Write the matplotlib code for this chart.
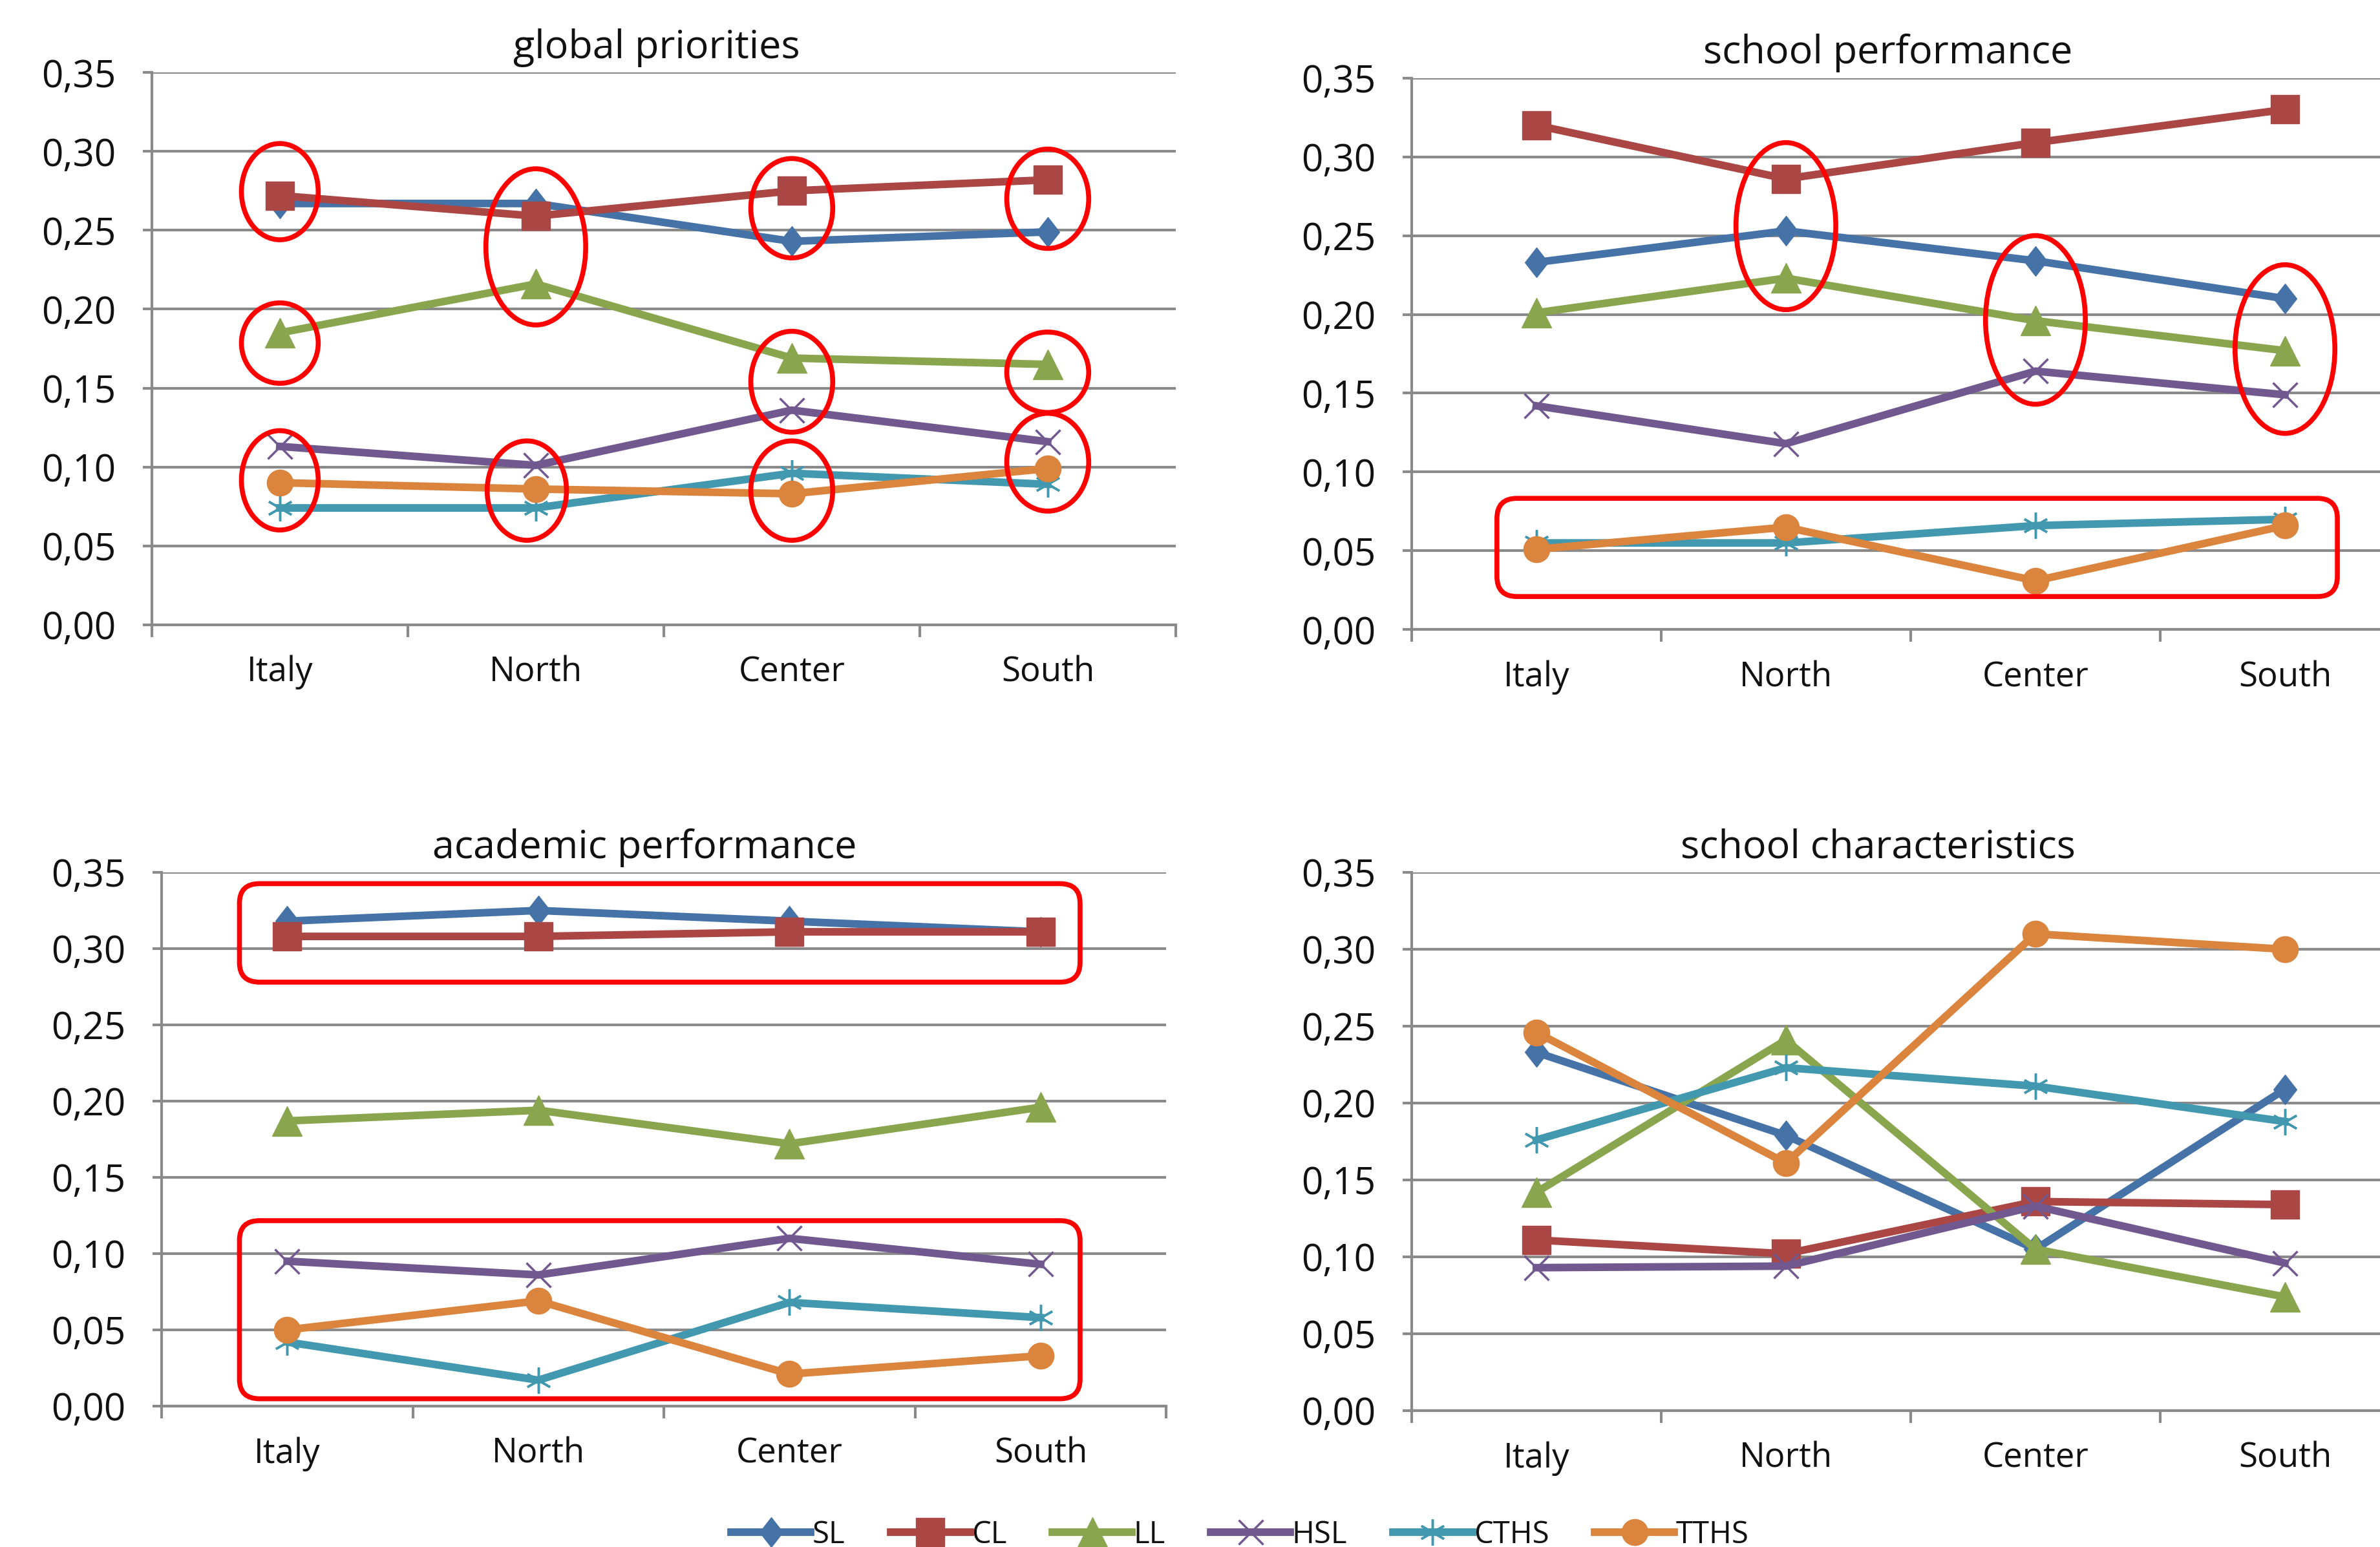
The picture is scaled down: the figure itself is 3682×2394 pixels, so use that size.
import numpy as np
import matplotlib
matplotlib.use("Agg")
import matplotlib.pyplot as plt
from matplotlib.patches import Ellipse, FancyBboxPatch
from matplotlib.path import Path
from matplotlib.ticker import FuncFormatter

plt.rcParams['font.family'] = ['Open Sans', 'DejaVu Sans']

regions = ['Italy', 'North', 'Center', 'South']
series = ['SL', 'CL', 'LL', 'HSL', 'CTHS', 'TTHS']
titles = ['global priorities', 'school performance',
          'academic performance', 'school characteristics']

# rows follow the order of `series`, columns the order of `regions`
global_priorities = [
    [0.267, 0.267, 0.243, 0.249],
    [0.272, 0.259, 0.275, 0.282],
    [0.185, 0.216, 0.169, 0.165],
    [0.113, 0.101, 0.136, 0.116],
    [0.074, 0.074, 0.096, 0.089],
    [0.090, 0.086, 0.083, 0.099],
]
school_performance = [
    [0.233, 0.253, 0.234, 0.210],
    [0.320, 0.286, 0.309, 0.330],
    [0.201, 0.223, 0.196, 0.177],
    [0.142, 0.118, 0.164, 0.149],
    [0.055, 0.055, 0.066, 0.070],
    [0.051, 0.065, 0.031, 0.066],
]
academic_performance = [
    [0.318, 0.325, 0.318, 0.311],
    [0.308, 0.308, 0.311, 0.311],
    [0.187, 0.194, 0.172, 0.196],
    [0.095, 0.086, 0.110, 0.093],
    [0.042, 0.017, 0.068, 0.058],
    [0.050, 0.069, 0.021, 0.033],
]
school_characteristics = [
    [0.233, 0.179, 0.105, 0.209],
    [0.111, 0.102, 0.136, 0.134],
    [0.142, 0.241, 0.105, 0.074],
    [0.093, 0.094, 0.133, 0.096],
    [0.176, 0.223, 0.211, 0.188],
    [0.246, 0.161, 0.310, 0.300],
]
panels = [global_priorities, school_performance,
          academic_performance, school_characteristics]

# tall diamond like the spreadsheet one
diamond = Path([(0, 1), (0.78, 0), (0, -1), (-0.78, 0), (0, 1)], closed=True)

colors = ['#4572A7', '#AA4643', '#89A54E', '#71588F', '#4198AF', '#DB843D']
markers = [diamond, 's', '^', 'x', (6, 2, 0), 'o']
msizes = [33, 32, 33, 28, 29, 29]
mews = [1, 1, 1, 2.5, 2.5, 1]

# red highlight marks: ellipses (x, y centre, width, height)
ellipses = {
    0: [(0, 0.2745, 0.30, 0.061), (0, 0.1785, 0.30, 0.051), (0, 0.0915, 0.30, 0.063),
        (1, 0.2395, 0.39, 0.099), (0.965, 0.085, 0.31, 0.063),
        (2, 0.264, 0.32, 0.063), (2, 0.154, 0.32, 0.064), (2, 0.085, 0.32, 0.063),
        (3, 0.270, 0.32, 0.063), (3, 0.160, 0.32, 0.051), (3, 0.103, 0.32, 0.062)],
    1: [(1, 0.256, 0.40, 0.106), (2, 0.1965, 0.40, 0.107), (3, 0.178, 0.40, 0.107)],
}
# rounded boxes (x0, x1, y0, y1)
boxes = {
    1: [(-0.158, 3.21, 0.021, 0.0833)],
    2: [(-0.19, 3.157, 0.278, 0.3426), (-0.19, 3.157, 0.0048, 0.1216)],
}

rects = [
    [0.0638, 0.5962, 0.4302, 0.3569],
    [0.5931, 0.5930, 0.4194, 0.3566],
    [0.0679, 0.0911, 0.4221, 0.3450],
    [0.5931, 0.0881, 0.4194, 0.3480],
]
title_x = [0.493, 0.477, 0.481, 0.467]

grid_col = '#8a8a8a'
text_col = '#111111'
red = '#ff0000'

fig = plt.figure(figsize=(36.82, 23.94), dpi=100)
x = np.arange(len(regions))
handles = []
for i, data in enumerate(panels):
    ax = fig.add_axes(rects[i])
    for j, name in enumerate(series):
        ln, = ax.plot(x, data[j], color=colors[j], lw=8.5, marker=markers[j],
                      markersize=msizes[j], markeredgewidth=mews[j],
                      markeredgecolor=colors[j], markerfacecolor=colors[j],
                      label=name, zorder=3 + j * 0.1, clip_on=False)
        if i == 0:
            handles.append(ln)

    ax.set_xlim(-0.5, 3.5)
    ax.set_ylim(0, 0.35)
    ax.set_yticks(np.arange(0, 0.351, 0.05))
    ax.yaxis.set_major_formatter(FuncFormatter(lambda v, p: f'{v:.2f}'.replace('.', ',')))
    ax.grid(axis='y', color=grid_col, lw=3, zorder=1)
    ax.set_axisbelow(True)
    for s in ['top', 'right']:
        ax.spines[s].set_visible(False)
    for s in ['left', 'bottom']:
        ax.spines[s].set_color(grid_col)
        ax.spines[s].set_linewidth(3)
    ax.tick_params(axis='y', length=10, width=3, color=grid_col, pad=30,
                   labelsize=42, labelcolor=text_col)
    ax.set_xticks(x)
    ax.set_xticklabels(regions)
    ax.tick_params(axis='x', which='major', length=0, pad=34,
                   labelsize=38, labelcolor=text_col)
    ax.set_xticks(np.arange(-0.5, 3.6, 1), minor=True)
    ax.tick_params(axis='x', which='minor', length=14, width=3, color=grid_col)
    ax.set_title(titles[i], x=title_x[i], pad=16, fontsize=44, color=text_col)

    # highlight annotations
    for (ex, ey, ew, eh) in ellipses.get(i, []):
        ax.add_patch(Ellipse((ex, ey), ew, eh, fill=False, ec=red, lw=5.5,
                             zorder=10, clip_on=False))
    for (x0, x1, y0, y1) in boxes.get(i, []):
        ax.add_patch(FancyBboxPatch((x0, y0), x1 - x0, y1 - y0,
                                    boxstyle='round,pad=0,rounding_size=0.08',
                                    mutation_aspect=0.16, fill=False, ec=red,
                                    lw=5.5, zorder=10, clip_on=False))

fig.legend(handles=handles, labels=series, loc='center', bbox_to_anchor=(0.521, 0.008),
           ncol=6, frameon=False, fontsize=34, handlelength=2.6, handletextpad=0.05,
           columnspacing=1.5, labelcolor=text_col)

fig.savefig('out.png', dpi=100)
